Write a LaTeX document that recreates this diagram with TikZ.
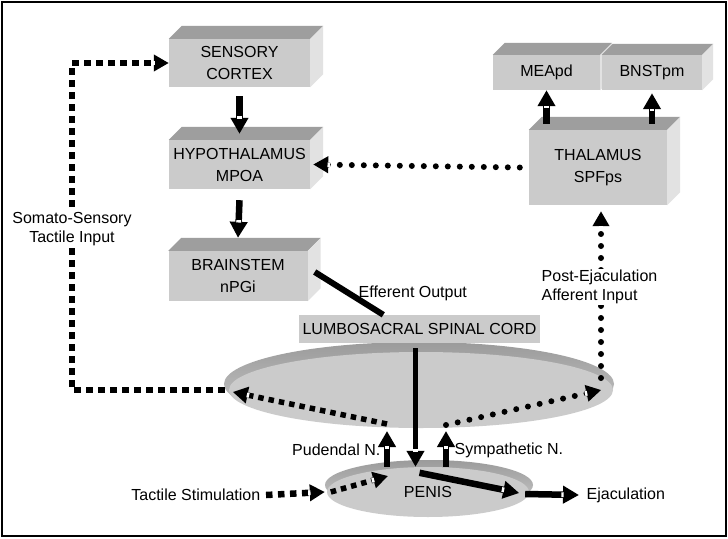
\documentclass[tikz,border=0pt]{standalone}
\usepackage{fontspec}
\setmainfont{Liberation Sans}
\usetikzlibrary{positioning,calc,arrows.meta,shapes.geometric,decorations.markings,backgrounds}
\definecolor{face}{RGB}{203,203,203}
\definecolor{topface}{RGB}{158,158,158}
\definecolor{sideface}{RGB}{226,226,226}
\definecolor{rim}{RGB}{155,155,155}
\tikzset{
	brain box/.style={
		fill=face, align=center, inner sep=0pt,
		font=\fontsize{16}{22}\selectfont
	},
	flat box/.style={
		fill=face, inner sep=0pt,
		font=\fontsize{16}{19}\selectfont
	},
	txt/.style={
		align=center, inner sep=1.5pt,
		font=\fontsize{16}{18.5}\selectfont
	},
	disc face/.style={ellipse, fill=face, inner sep=0pt,
		font=\fontsize{16}{19}\selectfont},
	disc rim/.style={ellipse, top color=rim, bottom color=face, inner sep=0pt},
	notch/.style={postaction={decorate, decoration={markings,
		mark=at position -#1 with {\fill[white] (-1.2pt,-2.4pt) rectangle (1.2pt,2.4pt);}}}},
	fat arrow/.style={line width=6.5pt, -{Triangle[width=17pt,length=16pt]}, notch=16.5pt},
	square dash/.style={line width=6.5pt, dash pattern=on 6.5pt off 5.5pt,
		-{Triangle[width=16pt,length=15pt]}, notch=15.5pt},
	round dot/.style={line width=6pt, line cap=round, dash pattern=on 0pt off 12pt,
		-{Triangle[width=16pt,length=15pt]}, notch=15.5pt}
}

\begin{document}
\begin{tikzpicture}[x=1pt,y=-1pt]
	\useasboundingbox (0,0) rectangle (728,538);
	
	% boxes
	\node[brain box, minimum width=141pt, minimum height=48pt] (sc) at (239.5,63) {SENSORY\\CORTEX};
	\node[brain box, minimum width=141pt, minimum height=49pt] (hyp) at (239.5,164.5) {HYPOTHALAMUS\\MPOA};
	\node[brain box, minimum width=139pt, minimum height=50pt] (bs) at (238,276) {BRAINSTEM\\nPGi};
	\node[brain box, minimum width=107pt, minimum height=35pt] (mea) at (546.5,72.5) {MEApd};
	\node[brain box, minimum width=100pt, minimum height=35pt] (bnst) at (652,72.5) {BNSTpm};
	\node[brain box, minimum width=138pt, minimum height=75pt] (thal) at (598,167.5) {THALAMUS\\SPFps};
	
	\begin{scope}[on background layer]
		\fill[white] (0,0) rectangle (728,538);
		\foreach \b/\d in {sc/13, hyp/13, bs/13, mea/12, bnst/11, thal/13} {
			\fill[topface] (\b.north west) -- ++(\d,-\d) -- ([shift={(\d,-\d)}]\b.north east) -- (\b.north east) -- cycle;
			\fill[sideface] (\b.north east) -- ++(\d,-\d) -- ([shift={(\d,-\d)}]\b.south east) -- (\b.south east) -- cycle;
		}
	\end{scope}
	
	% discs
	\node[disc rim, minimum width=390pt, minimum height=84pt] (spinalrim) at (419,384) {};
	\node[disc face, minimum width=384pt, minimum height=76pt] (spinal) at (421,390) {};
	\node[disc rim, minimum width=208pt, minimum height=50pt] (penisrim) at (429,485) {};
	\node[disc face, minimum width=202pt, minimum height=50pt] (penis) at (428,492) {PENIS};
	
	\node[flat box, minimum width=241pt, minimum height=28pt] (cord) at (419.5,329) {LUMBOSACRAL SPINAL CORD};
	
	% brain arrows
	\draw[fat arrow] ([yshift=-9pt]sc.south) -- ([yshift=6pt]hyp.north);
	\draw[fat arrow] ([yshift=-11pt]hyp.south) -- ([yshift=13pt]bs.north);
	\draw[fat arrow] ($(mea.south |- thal.north)+(0,-6)$) -- (mea.south);
	\draw[fat arrow] ($(bnst.south |- thal.north)+(0,-6)$) -- ([yshift=-3pt]bnst.south);
	\draw[round dot] ([xshift=-9pt]thal.west) -- ([xshift=3pt]hyp.east);
	
	% somato-sensory loop
	\coordinate (somato) at (72,229);
	\draw[square dash] ([xshift=-4pt]spinal.west) -| (somato) |- (sc.west);
	\node[txt, fill=white] (somatotxt) at (somato) {Somato-Sensory\\Tactile Input};
	
	% post-ejaculation input
	\coordinate (pe) at ([xshift=3pt,yshift=-6pt]thal.south);
	\draw[round dot] ($(spinal.east -| pe)+(0,-12)$) -- (pe);
	\node[txt, fill=white, align=left, anchor=west] (petxt) at (540,287) {Post-Ejaculation\\Afferent Input};
	
	% efferent output
	\draw[line width=6pt] ([shift={(7,-4)}]bs.east) -- ($(cord.north west)!0.35!(cord.north east)$);
	\node[txt, anchor=west] (efftxt) at (357,293) {Efferent Output};
	
	% spinal cord and penis
	\coordinate (lumbo) at ($(cord.south)+(-4,5)$);
	\coordinate (pud) at (387,431);
	\coordinate (sym) at (446,431);
	\coordinate (pudfoot) at (388,476);
	\draw[fat arrow, line width=5.5pt] (lumbo) -- (lumbo |- penis.north);
	\draw[fat arrow] (pud |- penis.north) -- (pud);
	\draw[fat arrow] (sym |- penis.north) -- (sym);
	\draw[square dash, line width=5.5pt, dash pattern=on 5.5pt off 5pt] ([yshift=7pt]pud) -- ([xshift=4pt,yshift=-2pt]spinal.west);
	\draw[round dot] ([yshift=6pt]sym) -- ([xshift=-12pt]spinal.east);
	\node[txt, anchor=east] (pudtxt) at (382,450) {Pudendal N.};
	\node[txt, anchor=west] (symtxt) at (453,450) {Sympathetic N.};
	
	\node[txt, anchor=east] (tact) at (262,495) {Tactile Stimulation};
	\node[txt, anchor=west] (ejac) at (585,495) {Ejaculation};
	\draw[square dash] ([xshift=4pt]tact.east) -- ([xshift=-2pt]penis.west);
	\draw[square dash, line width=5.5pt, dash pattern=on 5.5pt off 5pt] ([xshift=4pt]penis.west) -- (pudfoot);
	\draw[fat arrow] ($(lumbo |- penis.north)+(4,6)$) -- ([xshift=-10pt,yshift=-1pt]penis.east);
	\draw[fat arrow] ([xshift=-4pt,yshift=-2pt]penis.east) -- ([xshift=-6pt]ejac.west);
	
	% frame
	\draw[line width=1.5pt] (2,2) rectangle (726,536);
\end{tikzpicture}
\end{document}
